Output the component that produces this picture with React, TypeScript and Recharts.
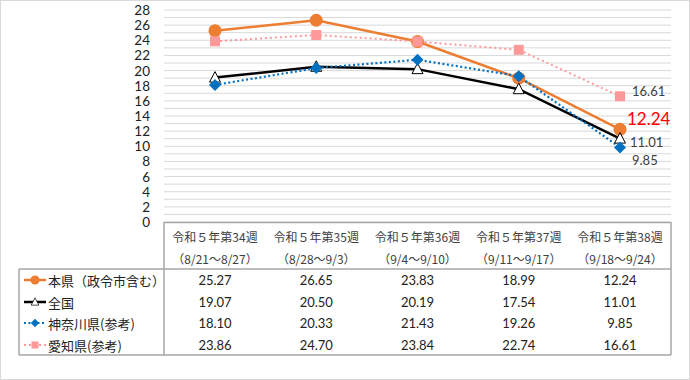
import React from 'react';
import { LineChart, Line, XAxis, YAxis, CartesianGrid } from 'recharts';

const weeks = ['令和５年第34週', '令和５年第35週', '令和５年第36週', '令和５年第37週', '令和５年第38週'];
const ranges = ['（8/21～8/27）', '（8/28～9/3）', '（9/4～9/10）', '（9/11～9/17）', '（9/18～9/24）'];

const honken = [25.27, 26.65, 23.83, 18.99, 12.24];
const zenkoku = [19.07, 20.5, 20.19, 17.54, 11.01];
const kanagawa = [18.1, 20.33, 21.43, 19.26, 9.85];
const aichi = [23.86, 24.7, 23.84, 22.74, 16.61];

const seriesNames = ['本県（政令市含む）', '全国', '神奈川県(参考)', '愛知県(参考)'];
const yTicks = [0, 1, 2, 3, 4, 5, 6, 7, 8, 9, 10, 11, 12, 13, 14, 15, 16, 17, 18, 19, 20, 21, 22, 23, 24, 25, 26, 27, 28];

const data = weeks.map((w, i) => ({
  week: w,
  range: ranges[i],
  honken: honken[i],
  zenkoku: zenkoku[i],
  kanagawa: kanagawa[i],
  aichi: aichi[i],
}));

const ORANGE = '#ED7D31';
const BLUE = '#0070C0';
const PINK = '#FF9999';
const BORDER = '#a6a6a6';
const JP = '"Noto Sans CJK JP", sans-serif';
const NUM = 'Lato, "Noto Sans", sans-serif';

const rowY = [280, 302, 323, 345];
const rowValues = [honken, zenkoku, kanagawa, aichi];

// markers
const Circle = ({ cx, cy }: any) => <circle cx={cx} cy={cy} r={6.5} fill={ORANGE} />;
const Triangle = ({ cx, cy }: any) => (
  <path d={`M${cx},${cy - 6} L${cx + 5.5},${cy + 4.5} L${cx - 5.5},${cy + 4.5} Z`} fill="#fff" stroke="#000" strokeWidth={1} />
);
const Diamond = ({ cx, cy }: any) => (
  <path d={`M${cx},${cy - 6} L${cx + 6},${cy} L${cx},${cy + 6} L${cx - 6},${cy} Z`} fill={BLUE} />
);
const Square = ({ cx, cy }: any) => <rect x={cx - 5} y={cy - 5} width={10} height={10} fill={PINK} />;

const markers = [Circle, Triangle, Diamond, Square];
const lineStyles = [
  { color: ORANGE, width: 2.5, dash: undefined },
  { color: '#000', width: 2.5, dash: undefined },
  { color: BLUE, width: 2.2, dash: '2 2.5' },
  { color: PINK, width: 2, dash: '2 3' },
];

const makeLabel = (dx: number, dy: number, size: number, color: string, last: number) => (props: any) => {
  const { x, y, value, index } = props;
  if (index !== undefined ? index !== 4 : value !== last) return null;
  return (
    <text x={x + dx} y={y + dy} fontSize={size} fill={color} fontFamily={NUM} dominantBaseline="central">
      {Number(value).toFixed(2)}
    </text>
  );
};

// only even values get a label, odd ticks are just gridlines
const YTick = ({ x, y, payload }: any) => {
  if (payload.value % 2 !== 0) return null;
  return (
    <text x={x} y={y} textAnchor="end" dominantBaseline="central" fontSize={13.5} fill="#222" fontFamily={NUM}>
      {payload.value}
    </text>
  );
};

const TableTick = ({ x, payload, index }: any) => {
  const i = index ?? weeks.indexOf(payload.value);
  return (
    <g>
      <text x={x} y={236} textAnchor="middle" dominantBaseline="central" fontSize={12} fill="#404040" fontFamily={JP}>
        {weeks[i]}
      </text>
      <text x={x} y={258} textAnchor="middle" dominantBaseline="central" fontSize={12} fill="#404040" fontFamily={JP}>
        {ranges[i]}
      </text>
      {rowValues.map((vals, r) => (
        <text key={r} x={x} y={rowY[r]} textAnchor="middle" dominantBaseline="central" fontSize={13} fill="#222" fontFamily={NUM}>
          {vals[i].toFixed(2)}
        </text>
      ))}
    </g>
  );
};

const App: React.FC = () => {
  return (
    <div style={{ position: 'absolute', left: 0, top: 0, width: 690, height: 380, background: '#fff' }}>
      <LineChart width={690} height={380} data={data} margin={{ top: 10, right: 19, bottom: 8, left: 0 }}>
        <CartesianGrid vertical={false} stroke="#d9d9d9" />
        <XAxis
          dataKey="week"
          height={150}
          axisLine={false}
          tickLine={false}
          interval={0}
          padding={{ left: 51, right: 51 }}
          tick={<TableTick />}
        />
        <YAxis
          width={164}
          domain={[0, 28]}
          ticks={yTicks}
          interval={0}
          axisLine={false}
          tickLine={false}
          tickSize={6}
          tickMargin={8}
          tick={<YTick />}
        />
        <Line dataKey="honken" stroke={ORANGE} strokeWidth={2.5} dot={<Circle />} activeDot={false}
          isAnimationActive={false} label={makeLabel(7, -11, 17, '#FF0000', honken[4])} />
        <Line dataKey="zenkoku" stroke="#000" strokeWidth={2.5} dot={<Triangle />} activeDot={false}
          isAnimationActive={false} label={makeLabel(10, 3, 13, '#404040', zenkoku[4])} />
        <Line dataKey="kanagawa" stroke={BLUE} strokeWidth={2.2} strokeDasharray="2 2.5" dot={<Diamond />} activeDot={false}
          isAnimationActive={false} label={makeLabel(12, 13, 13, '#404040', kanagawa[4])} />
        <Line dataKey="aichi" stroke={PINK} strokeWidth={2} strokeDasharray="2 3" dot={<Square />} activeDot={false}
          isAnimationActive={false} label={makeLabel(12, -5, 13, '#404040', aichi[4])} />
      </LineChart>
      <svg width={690} height={380} style={{ position: 'absolute', left: 0, top: 0, pointerEvents: 'none' }}>
        <rect x={0.5} y={0.5} width={689} height={379} fill="none" stroke="#d9d9d9" />
        <line x1={164} y1={222.5} x2={671} y2={222.5} stroke={BORDER} strokeWidth={1.5} />
        <line x1={19} y1={269} x2={671} y2={269} stroke={BORDER} strokeWidth={1.5} />
        <line x1={19} y1={355} x2={671} y2={355} stroke={BORDER} strokeWidth={1.5} />
        <line x1={164} y1={222} x2={164} y2={355} stroke={BORDER} strokeWidth={1.5} />
        <line x1={671} y1={222} x2={671} y2={355} stroke={BORDER} strokeWidth={1.5} />
        <line x1={19} y1={269} x2={19} y2={355} stroke={BORDER} strokeWidth={1.5} />
        {seriesNames.map((name, r) => {
          const M = markers[r];
          const s = lineStyles[r];
          return (
            <g key={name}>
              <line x1={24} y1={rowY[r]} x2={46} y2={rowY[r]} stroke={s.color} strokeWidth={s.width} strokeDasharray={s.dash} />
              <g transform={`translate(35 ${rowY[r]}) scale(0.7) translate(-35 ${-rowY[r]})`}>
                <M cx={35} cy={rowY[r]} />
              </g>
              <text x={48} y={rowY[r]} dominantBaseline="central" fontSize={13} fill="#222" fontFamily={JP}>
                {name}
              </text>
            </g>
          );
        })}
      </svg>
    </div>
  );
};

export default App;
